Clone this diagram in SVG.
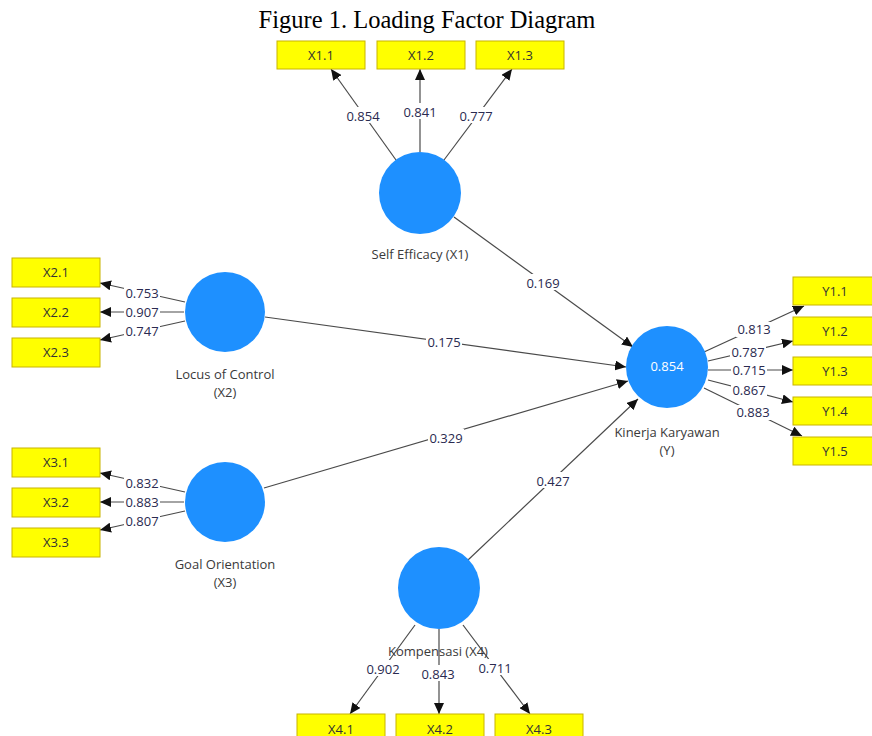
<svg xmlns="http://www.w3.org/2000/svg" width="872" height="736" viewBox="0 0 872 736">
<style>
.title{font-family:"Liberation Serif","Times New Roman",serif;font-size:24.5px;fill:#000}
.box rect{fill:#ffff00;stroke:#c8b400;stroke-width:1}
.box text{font-family:"Open Sans","Noto Sans","Liberation Sans",sans-serif;font-size:13px;fill:#333;text-anchor:middle}
.lv circle{fill:#1e90ff}
.lv text{font-family:"Open Sans","Noto Sans","Liberation Sans",sans-serif;font-size:13px;fill:#3a3a3a;text-anchor:middle}
.lv text.r2{fill:#fff}
.edge line{stroke:#4a4a4a;stroke-width:1.2;marker-end:url(#arr)}
.lbl rect{fill:#fff}
.lbl text{font-family:"Open Sans","Noto Sans","Liberation Sans",sans-serif;font-size:13px;fill:#2a2a50;text-anchor:middle}
</style>
<defs>
<marker id="arr" markerUnits="userSpaceOnUse" markerWidth="12" markerHeight="10" refX="11" refY="5" orient="auto">
<path d="M0,0 L11,5 L0,10 z" fill="#111"/>
</marker>
</defs>
<rect width="872" height="736" fill="#fff"/>
<text class="title" x="427" y="28" text-anchor="middle">Figure 1. Loading Factor Diagram</text>

<g id="connectors">
<g class="edge">
<line x1="396" y1="160" x2="331" y2="69"/>
<line x1="420" y1="152" x2="420" y2="69"/>
<line x1="444" y1="160" x2="512" y2="69"/>
<line x1="185" y1="302" x2="100" y2="283"/>
<line x1="184" y1="312" x2="100" y2="312"/>
<line x1="185" y1="321" x2="100" y2="340"/>
<line x1="185" y1="492" x2="100" y2="473"/>
<line x1="184" y1="502" x2="100" y2="502"/>
<line x1="185" y1="511" x2="100" y2="530"/>
<line x1="704" y1="352" x2="804" y2="306"/>
<line x1="708" y1="361" x2="793" y2="341"/>
<line x1="708" y1="370" x2="793" y2="370"/>
<line x1="708" y1="380" x2="793" y2="402"/>
<line x1="704" y1="388" x2="802" y2="436"/>
<line x1="415" y1="625" x2="350" y2="714"/>
<line x1="439" y1="629" x2="439" y2="714"/>
<line x1="463" y1="625" x2="530" y2="714"/>
<line x1="454" y1="217" x2="633" y2="347"/>
<line x1="265" y1="317" x2="626" y2="367"/>
<line x1="264" y1="488" x2="628" y2="381"/>
<line x1="468" y1="560" x2="638" y2="399"/>
</g>
<g class="lbl">
<rect x="345" y="107" width="36" height="16"/><text x="363" y="121">0.854</text>
<rect x="402" y="103" width="36" height="16"/><text x="420" y="117">0.841</text>
<rect x="458" y="107" width="36" height="16"/><text x="476" y="121">0.777</text>
<rect x="124" y="286" width="36" height="15"/><text x="142" y="298">0.753</text>
<rect x="124" y="305" width="36" height="15"/><text x="142" y="317">0.907</text>
<rect x="124" y="324" width="36" height="15"/><text x="142" y="336">0.747</text>
<rect x="124" y="476" width="36" height="15"/><text x="142" y="488">0.832</text>
<rect x="124" y="495" width="36" height="15"/><text x="142" y="507">0.883</text>
<rect x="124" y="514" width="36" height="15"/><text x="142" y="526">0.807</text>
<rect x="736" y="322" width="36" height="15"/><text x="754" y="334">0.813</text>
<rect x="730" y="345" width="36" height="15"/><text x="748" y="357">0.787</text>
<rect x="731" y="363" width="36" height="15"/><text x="749" y="375">0.715</text>
<rect x="731" y="383" width="36" height="15"/><text x="749" y="395">0.867</text>
<rect x="735" y="405" width="36" height="15"/><text x="753" y="417">0.883</text>
<rect x="365" y="660" width="36" height="16"/><text x="383" y="674">0.902</text>
<rect x="420" y="665" width="36" height="16"/><text x="438" y="679">0.843</text>
<rect x="477" y="659" width="36" height="16"/><text x="495" y="673">0.711</text>
<rect x="525" y="274" width="36" height="16"/><text x="543" y="288">0.169</text>
<rect x="426" y="333" width="36" height="16"/><text x="444" y="347">0.175</text>
<rect x="428" y="429" width="36" height="16"/><text x="446" y="443">0.329</text>
<rect x="535" y="472" width="36" height="16"/><text x="553" y="486">0.427</text>
</g>
</g>

<g id="X1" class="lv"><circle cx="420" cy="193" r="41"/><text x="420" y="259">Self Efficacy (X1)</text></g>
<g id="X2" class="lv"><circle cx="225" cy="312" r="40"/><text x="225" y="379">Locus of Control</text><text x="225" y="397">(X2)</text></g>
<g id="X3" class="lv"><circle cx="225" cy="502" r="40"/><text x="225" y="569">Goal Orientation</text><text x="225" y="587">(X3)</text></g>
<g id="Y" class="lv"><circle cx="667" cy="367" r="41"/><text class="r2" x="667" y="371">0.854</text><text x="667" y="437">Kinerja Karyawan</text><text x="667" y="455">(Y)</text></g>
<g id="X4" class="lv"><circle cx="439" cy="588" r="41"/><text x="438" y="656">Kompensasi (X4)</text></g>

<g id="X1.1" class="box"><rect x="277" y="41" width="88" height="28"/><text x="321" y="60">X1.1</text></g>
<g id="X1.2" class="box"><rect x="377" y="41" width="88" height="28"/><text x="421" y="60">X1.2</text></g>
<g id="X1.3" class="box"><rect x="476" y="41" width="88" height="28"/><text x="520" y="60">X1.3</text></g>
<g id="X2.1" class="box"><rect x="12" y="258" width="88" height="29"/><text x="56" y="277">X2.1</text></g>
<g id="X2.2" class="box"><rect x="12" y="298" width="88" height="29"/><text x="56" y="317">X2.2</text></g>
<g id="X2.3" class="box"><rect x="12" y="338" width="88" height="29"/><text x="56" y="357">X2.3</text></g>
<g id="X3.1" class="box"><rect x="12" y="448" width="88" height="29"/><text x="56" y="467">X3.1</text></g>
<g id="X3.2" class="box"><rect x="12" y="488" width="88" height="29"/><text x="56" y="507">X3.2</text></g>
<g id="X3.3" class="box"><rect x="12" y="528" width="88" height="29"/><text x="56" y="547">X3.3</text></g>
<g id="Y1.1" class="box"><rect x="793" y="277" width="88" height="28"/><text x="835" y="296">Y1.1</text></g>
<g id="Y1.2" class="box"><rect x="793" y="317" width="88" height="28"/><text x="835" y="336">Y1.2</text></g>
<g id="Y1.3" class="box"><rect x="793" y="357" width="88" height="28"/><text x="835" y="376">Y1.3</text></g>
<g id="Y1.4" class="box"><rect x="793" y="397" width="88" height="28"/><text x="835" y="416">Y1.4</text></g>
<g id="Y1.5" class="box"><rect x="793" y="437" width="88" height="28"/><text x="835" y="456">Y1.5</text></g>
<g id="X4.1" class="box"><rect x="297" y="714" width="88" height="28"/><text x="341" y="734">X4.1</text></g>
<g id="X4.2" class="box"><rect x="396" y="714" width="88" height="28"/><text x="440" y="734">X4.2</text></g>
<g id="X4.3" class="box"><rect x="495" y="714" width="88" height="28"/><text x="539" y="734">X4.3</text></g>
</svg>
